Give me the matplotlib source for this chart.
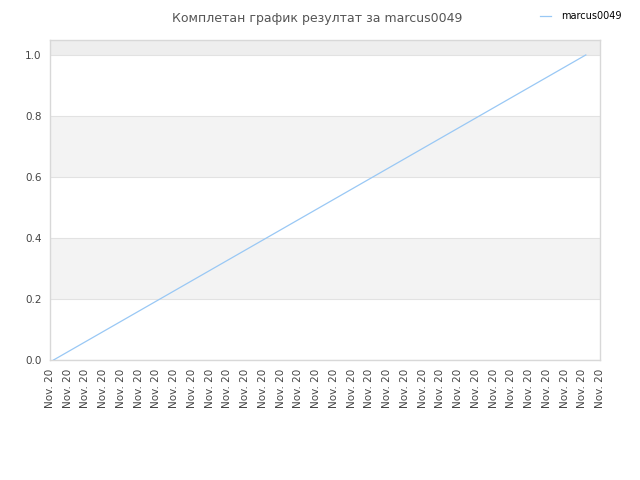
import matplotlib
matplotlib.use("Agg")
import matplotlib.pyplot as plt

# data
player = "marcus0049"
title = "Комплетан график резултат за " + player
day_labels = ["Nov. 20"] * 32
score_days = [0, 30]
score_values = [0.0, 1.0]
band_edges = [0.0, 0.2, 0.4, 0.6, 0.8, 1.0]
y_ticks = [0.0, 0.2, 0.4, 0.6, 0.8, 1.0]

fig = plt.figure(figsize=(6.4, 4.8), dpi=100)
ax = fig.add_axes([50 / 640, 120 / 480, 550 / 640, 320 / 480])

# alternating background bands
for i in range(len(band_edges) - 1):
    if i % 2 == 1:
        ax.axhspan(band_edges[i], band_edges[i + 1], color="#f3f3f3", lw=0, zorder=0)
ax.axhspan(1.0, 1.05, color="#eeeeee", lw=0, zorder=0)
for y in band_edges:
    ax.axhline(y, color="#e2e2e2", lw=0.8, zorder=1)

line, = ax.plot([d + 0.2 for d in score_days], score_values, color="#99c8f5",
                lw=0.9, zorder=3)

ax.set_xlim(0, len(day_labels) - 1)
ax.set_ylim(0, 1.049)
ax.set_xticks(range(len(day_labels)))
ax.set_xticklabels(day_labels, rotation=90, fontsize=7.5, color="#444444")
ax.set_yticks(y_ticks)
ax.set_yticklabels([f"{v:.1f}" for v in y_ticks], fontsize=7.5, color="#444444")
ax.tick_params(length=0, pad=6)
for s in ax.spines.values():
    s.set_color("#d8d8d8")
    s.set_linewidth(1.0)

fig.text(0.495, 0.975, title, ha="center", va="top", fontsize=9, color="#555555")
fig.legend([line], [player], loc="upper right", bbox_to_anchor=(0.985, 0.995),
           frameon=False, fontsize=7, handlelength=1.2, handletextpad=1.0)

fig.savefig("out.png", dpi=100)
